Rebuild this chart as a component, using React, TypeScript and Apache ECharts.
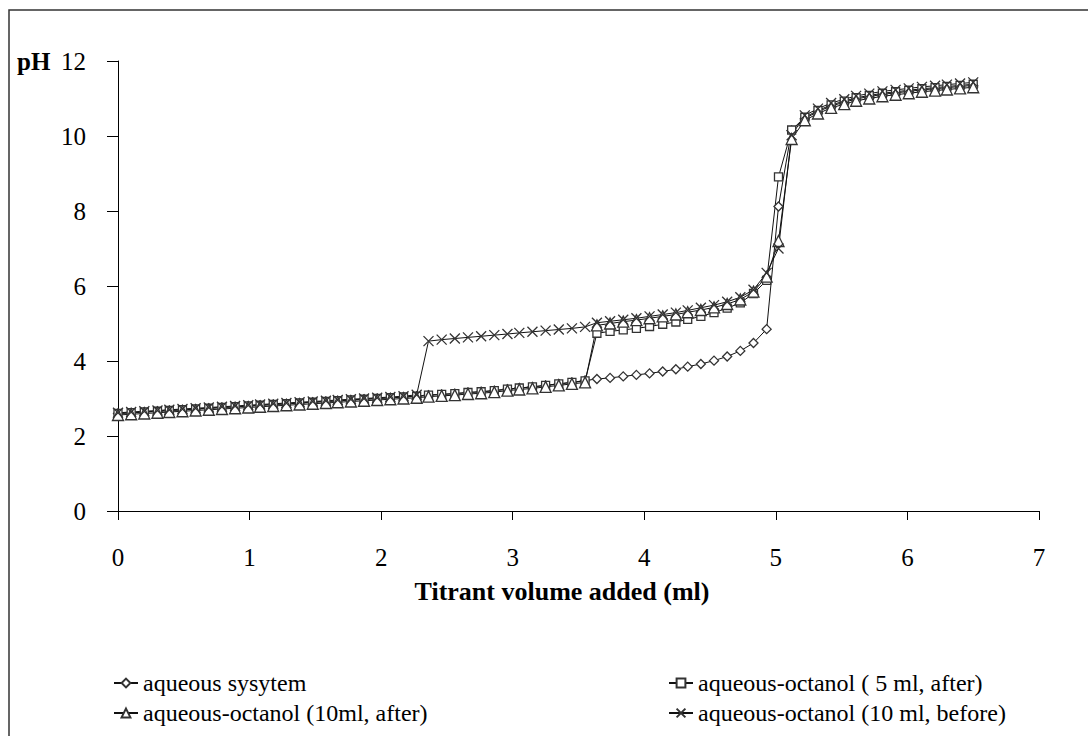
import React, { useEffect, useRef } from "react";
import * as echarts from "echarts";

const volume = [
  0, 0.1, 0.2, 0.3, 0.39, 0.49, 0.59, 0.69, 0.79, 0.89,
  0.99, 1.08, 1.18, 1.28, 1.38, 1.48, 1.58, 1.67, 1.77, 1.87,
  1.97, 2.07, 2.17, 2.27, 2.36, 2.46, 2.56, 2.66, 2.76, 2.86,
  2.96, 3.05, 3.15, 3.25, 3.35, 3.45, 3.55, 3.64, 3.74, 3.84,
  3.94, 4.04, 4.14, 4.24, 4.33, 4.43, 4.53, 4.63, 4.73, 4.83,
  4.93, 5.02, 5.12, 5.22, 5.32, 5.42, 5.52, 5.61, 5.71, 5.81,
  5.91, 6.01, 6.11, 6.21, 6.3, 6.4, 6.5,
];

const phAqueous = [
  2.6, 2.62, 2.64, 2.66, 2.68, 2.7, 2.72, 2.74, 2.76, 2.78,
  2.8, 2.82, 2.84, 2.86, 2.88, 2.9, 2.92, 2.94, 2.96, 2.98,
  3.0, 3.02, 3.04, 3.06, 3.09, 3.11, 3.13, 3.16, 3.18, 3.21,
  3.25, 3.28, 3.31, 3.35, 3.39, 3.43, 3.48, 3.52, 3.55, 3.59,
  3.63, 3.67, 3.72, 3.78, 3.85, 3.92, 4.01, 4.12, 4.27, 4.48,
  4.85, 8.12, 10.15, 10.47, 10.65, 10.8, 10.9, 10.99, 11.05, 11.11,
  11.15, 11.19, 11.23, 11.26, 11.29, 11.32, 11.35,
];

const phOctanol5After = [
  2.6, 2.62, 2.64, 2.66, 2.68, 2.7, 2.72, 2.74, 2.76, 2.78,
  2.8, 2.82, 2.84, 2.86, 2.88, 2.9, 2.92, 2.94, 2.96, 2.98,
  3.0, 3.02, 3.04, 3.06, 3.09, 3.11, 3.13, 3.16, 3.18, 3.21,
  3.25, 3.28, 3.31, 3.35, 3.39, 3.43, 3.47, 4.74, 4.79, 4.83,
  4.87, 4.92, 4.98, 5.04, 5.11, 5.19, 5.29, 5.41, 5.55, 5.8,
  6.15, 8.91, 10.16, 10.5, 10.68, 10.83, 10.93, 11.02, 11.08, 11.14,
  11.18, 11.22, 11.26, 11.29, 11.32, 11.35, 11.38,
];

const phOctanol10After = [
  2.56, 2.58, 2.6, 2.62, 2.64, 2.66, 2.68, 2.7, 2.72, 2.74,
  2.76, 2.78, 2.8, 2.82, 2.84, 2.86, 2.88, 2.9, 2.92, 2.94,
  2.96, 2.98, 3.0, 3.02, 3.05, 3.07, 3.09, 3.12, 3.14, 3.17,
  3.21, 3.24, 3.27, 3.31, 3.35, 3.39, 3.43, 4.95, 5.0, 5.05,
  5.09, 5.14, 5.19, 5.24, 5.3, 5.36, 5.43, 5.52, 5.64, 5.85,
  6.25, 7.2, 9.92, 10.42, 10.6, 10.75, 10.85, 10.94, 11.0, 11.06,
  11.1, 11.14, 11.18, 11.21, 11.24, 11.27, 11.3,
];

const phOctanol10Before = [
  2.62, 2.64, 2.66, 2.68, 2.7, 2.72, 2.74, 2.76, 2.78, 2.8,
  2.82, 2.84, 2.86, 2.88, 2.9, 2.92, 2.94, 2.96, 2.98, 3.0,
  3.02, 3.04, 3.06, 3.1, 4.53, 4.57, 4.6, 4.63, 4.66, 4.69,
  4.72, 4.75, 4.78, 4.81, 4.84, 4.87, 4.91, 5.02, 5.06, 5.1,
  5.14, 5.19, 5.24, 5.29, 5.35, 5.42, 5.49, 5.58, 5.7, 5.9,
  6.35, 7.0, 10.02, 10.55, 10.73, 10.88, 10.98, 11.07, 11.13, 11.19,
  11.23, 11.27, 11.31, 11.34, 11.37, 11.4, 11.43,
];

const seriesNames = [
  "aqueous sysytem",
  "aqueous-octanol ( 5 ml, after)",
  "aqueous-octanol (10ml, after)",
  "aqueous-octanol (10 ml, before)",
];

const xTicks = [0, 1, 2, 3, 4, 5, 6, 7];

const FONT = "'Liberation Serif', 'Times New Roman', serif";
const CROSS = "path://M0,0L10,10M10,0L0,10";

function pairs(ys: number[]) {
  return volume.map((v, i) => [v, ys[i]]);
}

export default function App() {
  const ref = useRef<HTMLDivElement>(null);

  useEffect(() => {
    if (!ref.current) return;
    const chart = echarts.init(ref.current, undefined, { renderer: "svg" });

    const mk = (name: string, ys: number[], symbol: string, size: number) => ({
      name,
      type: "line",
      data: pairs(ys),
      symbol,
      symbolSize: size,
      showAllSymbol: true,
      lineStyle: { color: "#111", width: 1 },
      itemStyle: { color: "#ffffff", borderColor: "#333", borderWidth: 1.3 },
      emphasis: { disabled: true },
      z: 2,
    });

    const legendCommon = {
      itemWidth: 24,
      itemHeight: 11,
      itemGap: 5,
      textStyle: { fontFamily: FONT, fontSize: 24, color: "#000" },
      selectedMode: false,
      padding: 0,
    };

    chart.setOption({
      animation: false,
      backgroundColor: "#ffffff",
      textStyle: { fontFamily: FONT },
      grid: { left: 118, right: 49, top: 61, bottom: 225, containLabel: false },
      xAxis: {
        type: "value",
        min: xTicks[0],
        max: xTicks[xTicks.length - 1],
        interval: 1,
        axisLine: { show: true, onZero: false, lineStyle: { color: "#000", width: 1 } },
        axisTick: { show: true, inside: false, length: 9, lineStyle: { color: "#000" } },
        axisLabel: { fontFamily: FONT, fontSize: 25, color: "#000", margin: 34 },
        splitLine: { show: false },
      },
      yAxis: {
        type: "value",
        min: 0,
        max: 12,
        interval: 2,
        axisLine: { show: true, lineStyle: { color: "#000", width: 1 } },
        axisTick: { show: true, inside: false, length: 11, lineStyle: { color: "#000" } },
        axisLabel: { fontFamily: FONT, fontSize: 25, color: "#000", margin: 32 },
        splitLine: { show: false },
      },
      legend: [
        { ...legendCommon, data: [seriesNames[0]], left: 113, top: 671 },
        { ...legendCommon, data: [seriesNames[1]], left: 668, top: 671 },
        { ...legendCommon, data: [seriesNames[2]], left: 113, top: 701 },
        { ...legendCommon, data: [seriesNames[3]], left: 668, top: 701 },
      ],
      graphic: [
        {
          type: "rect",
          shape: { x: 9, y: 10, width: 1100, height: 760 },
          style: { fill: "none", stroke: "#333", lineWidth: 1.5 },
          silent: true,
          z: -1,
        },
        {
          type: "text",
          left: 17,
          top: 49,
          style: { text: "pH", font: `bold 25px ${FONT}`, fill: "#000" },
          silent: true,
        },
        {
          type: "text",
          x: 562,
          y: 591,
          style: {
            text: "Titrant volume added (ml)",
            font: `bold 26px ${FONT}`,
            fill: "#000",
            textAlign: "center",
            textVerticalAlign: "middle",
          },
          silent: true,
        },
      ],
      series: [
        mk(seriesNames[0], phAqueous, "diamond", 9),
        mk(seriesNames[1], phOctanol5After, "rect", 8),
        mk(seriesNames[2], phOctanol10After, "triangle", 11),
        mk(seriesNames[3], phOctanol10Before, CROSS, 10),
      ],
    });

    return () => chart.dispose();
  }, []);

  return (
    <div
      ref={ref}
      style={{ position: "absolute", left: 0, top: 0, width: 1088, height: 736, background: "#fff" }}
    />
  );
}
